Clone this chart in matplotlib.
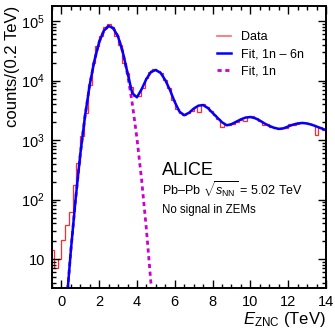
import numpy as np
import matplotlib
matplotlib.use("Agg")
import matplotlib.pyplot as plt
from matplotlib.ticker import MultipleLocator, LogLocator, FuncFormatter, NullFormatter
from matplotlib.lines import Line2D

plt.rcParams['font.family'] = ['Liberation Sans', 'DejaVu Sans']
plt.rcParams['mathtext.fontset'] = 'custom'
plt.rcParams['mathtext.rm'] = 'Liberation Sans'
plt.rcParams['mathtext.it'] = 'Liberation Sans:italic'

# histogram, 0.2 TeV bins starting at -0.6 TeV
bin_lo = -0.6
bin_w = 0.2
data_counts = [14, 7, 10, 21, 37, 62, 178, 410, 1170, 2900,
               8300, 19500, 39000, 57000, 79000, 91000, 79000, 57000, 40000, 20000,
               13200, 7900, 5500, 5500, 7600, 11200, 13800, 15500, 14800, 13200,
               10200, 7600, 4800, 3300, 2900, 2630, 2820, 3090, 3550, 3020,
               4070, 3630, 3090, 2690, 2290, 1660, 1820, 1820, 1900, 2040,
               2190, 2090, 2450, 2510, 2340, 2140, 1820, 1860, 1660, 1580,
               1550, 1580, 1590, 1860, 1820, 1900, 1950, 1950, 1860, 1820,
               1200, 1660, 1510]

# fit 1n-6n
fit_x = [0.3, 0.5, 0.75, 1.0, 1.25, 1.5, 1.75, 2.0, 2.25, 2.5,
         2.75, 3.0, 3.25, 3.5, 3.75, 4.0, 4.25, 4.5, 4.75, 5.0,
         5.25, 5.5, 5.75, 6.0, 6.25, 6.5, 6.75, 7.0, 7.25, 7.5,
         7.75, 8.0, 8.25, 8.5, 8.75, 9.0, 9.25, 9.5, 9.75, 10.0,
         10.25, 10.5, 10.75, 11.0, 11.25, 11.5, 11.75, 12.0, 12.25, 12.5,
         12.75, 13.0, 13.25, 13.5, 13.75, 14.0]
fit_all = [2.3, 13.8, 100, 575, 2510, 8510, 21900, 44700, 69200, 83200,
           75900, 55000, 30200, 13500, 6170, 5250, 7240, 10700, 14100, 15100,
           13500, 10200, 6920, 4370, 3020, 2630, 2880, 3390, 3800, 3890,
           3470, 2880, 2400, 2000, 1780, 1860, 2040, 2240, 2400, 2450,
           2340, 2140, 1910, 1740, 1620, 1550, 1580, 1700, 1820, 1910,
           1950, 1910, 1820, 1700, 1580, 1480]

# fit 1n only
fit1_x = [0.3, 0.5, 0.75, 1.0, 1.25, 1.5, 1.75, 2.0, 2.25, 2.5,
          2.75, 3.0, 3.25, 3.5, 3.75, 4.0, 4.25, 4.5, 4.75, 5.0]
fit_1n = [2.3, 13.8, 100, 575, 2510, 8510, 21900, 44700, 69200, 83200,
          75900, 55000, 30200, 12900, 4170, 1070, 209, 31.6, 3.6, 0.33]

edges = bin_lo + bin_w * np.arange(len(data_counts) + 1)

fig = plt.figure(figsize=(3.35, 3.32), dpi=100)
ax = fig.add_axes([0.155, 0.133, 0.818, 0.849])

ax.stairs(data_counts, edges, baseline=None, color='#ff2a2a', lw=0.9)
ax.plot(fit1_x, fit_1n, color='#cc00cc', lw=2.0, ls=(0, (1.5, 1.3)))
ax.plot(fit_x, fit_all, color='#0000ff', lw=1.8)

ax.set_yscale('log')
ax.set_xlim(-0.5, 14)
ax.set_ylim(3.3, 1.8e5)

ax.xaxis.set_major_locator(MultipleLocator(2))
ax.xaxis.set_minor_locator(MultipleLocator(0.5))
ax.yaxis.set_major_locator(LogLocator(base=10))
ax.yaxis.set_minor_locator(LogLocator(base=10, subs=range(2, 10)))
ax.yaxis.set_minor_formatter(NullFormatter())


def yfmt(v, pos):
    e = int(round(np.log10(v)))
    if e == 1:
        return '10'
    return r'$10^{%d}$' % e


ax.yaxis.set_major_formatter(FuncFormatter(yfmt))
ax.tick_params(which='both', direction='in', top=True, right=True, width=1.0, labelsize=10.5)
ax.tick_params(which='major', length=6, pad=5)
ax.tick_params(which='minor', length=3)
for s in ax.spines.values():
    s.set_linewidth(1.4)

ax.set_ylabel('counts/(0.2 TeV)', fontsize=12, loc='top', labelpad=1)
ax.set_xlabel(r'$E_{\rm ZNC}$ (TeV)', fontsize=12, loc='right', labelpad=1)

handles = [Line2D([], [], color='#ff6a6a', lw=1.2),
           Line2D([], [], color='#0000ff', lw=1.8),
           Line2D([], [], color='#cc00cc', lw=2.0, ls=(0, (1.5, 1.3)))]
ax.legend(handles, ['Data', 'Fit, 1n \u2013 6n', 'Fit, 1n'], loc='upper right',
          bbox_to_anchor=(0.96, 0.95), frameon=False, fontsize=9,
          handlelength=1.1, handletextpad=0.8, labelspacing=0.4)

ax.text(0.40, 0.418, 'ALICE', transform=ax.transAxes, fontsize=13, va='center')
ax.text(0.40, 0.347, 'Pb\u2013Pb $\\sqrt{s_{\\rm NN}}$ = 5.02 TeV', transform=ax.transAxes,
        fontsize=9, va='center')
ax.text(0.40, 0.277, 'No signal in ZEMs', transform=ax.transAxes, fontsize=8.3, va='center')

fig.savefig('out.png', dpi=100)
